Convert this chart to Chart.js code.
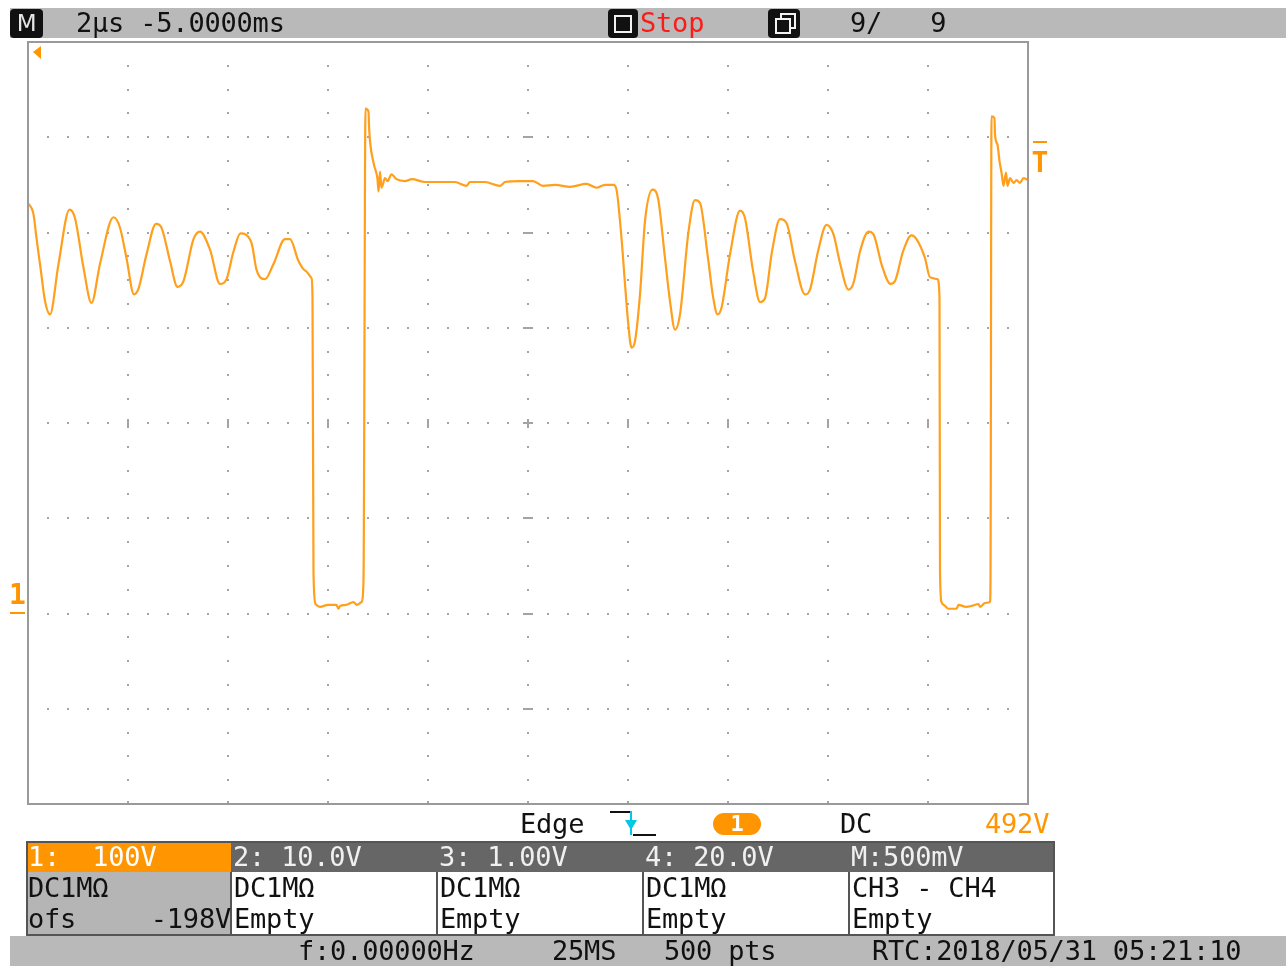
<!DOCTYPE html>
<html>
<head>
<meta charset="utf-8">
<title>CH1 100V/div 2µs/div</title>
<script src="https://cdn.jsdelivr.net/npm/chart.js@4.4.1/dist/chart.umd.min.js"></script>
<style>
  html, body { margin: 0; padding: 0; background: #fff; }
  #scope { position: relative; width: 1286px; height: 966px; overflow: hidden; background: #fff; }
  #scope canvas { position: absolute; left: 0; top: 0; }
  .bar { position: absolute; background: #b9b9b9; }
  .t { position: absolute; font-family: "DejaVu Sans Mono", monospace; font-size: 27px;
       white-space: pre; color: #111; letter-spacing: -0.2px; }
  .cell { position: absolute; box-sizing: border-box; }
  .ico { position: absolute; background: #111; border-radius: 4px; }
</style>
</head>
<body>
<div id="scope">
  <canvas id="trace" width="1286" height="966"></canvas>

  <!-- top status bar -->
  <div class="bar" style="left:10px;top:8px;width:1276px;height:30px;"></div>
  <div class="ico" style="left:10px;top:9px;width:33px;height:29px;"></div>
  <div class="t" style="left:10px;top:8px;width:33px;height:30px;line-height:30px;text-align:center;color:#e6e6e6;font-family:'DejaVu Sans',sans-serif;font-size:23px;">M</div>
  <div class="t" style="left:76px;top:8px;line-height:30px;">2µs -5.0000ms</div>
  <div class="ico" style="left:608px;top:9px;width:30px;height:29px;"></div>
  <div style="position:absolute;left:614px;top:15px;width:14px;height:14px;border:2px solid #f2f2f2;background:#111;"></div>
  <div class="t" style="left:640px;top:8px;line-height:30px;color:#ff1a1a;">Stop</div>
  <div class="ico" style="left:768px;top:9px;width:32px;height:29px;"></div>
  <div style="position:absolute;left:780px;top:13px;width:12px;height:12px;border:2px solid #f2f2f2;"></div>
  <div style="position:absolute;left:775px;top:18px;width:12px;height:12px;border:2px solid #f2f2f2;background:#111;"></div>
  <div class="t" style="left:850px;top:8px;line-height:30px;">9/   9</div>

  <!-- trigger row -->
  <div class="t" style="left:520px;top:810px;line-height:28px;">Edge</div>
  <svg style="position:absolute;left:606px;top:808px;" width="52" height="30">
    <line x1="4" y1="4" x2="24" y2="4" stroke="#111" stroke-width="2"/>
    <line x1="25" y1="3" x2="25" y2="27" stroke="#00c8e6" stroke-width="2"/>
    <polygon points="19,12 31,12 25,22" fill="#00c8e6"/>
    <line x1="27" y1="27" x2="50" y2="27" stroke="#111" stroke-width="2"/>
  </svg>
  <div style="position:absolute;left:713px;top:813px;width:48px;height:22px;border-radius:11px;background:#ff9500;"></div>
  <div class="t" style="left:713px;top:811px;width:48px;line-height:26px;text-align:center;color:#fff;font-weight:bold;font-size:22px;">1</div>
  <div class="t" style="left:840px;top:810px;line-height:28px;">DC</div>
  <div class="t" style="left:985px;top:810px;line-height:28px;color:#ff9500;">492V</div>

  <!-- channel table -->
  <div class="cell" style="left:26px;top:841px;width:205px;height:31px;background:#ff9500;"></div>
  <div class="cell" style="left:231px;top:841px;width:824px;height:31px;background:#666;"></div>
  <div class="cell" style="left:26px;top:872px;width:205px;height:63px;background:#b5b5b5;"></div>
  <div class="cell" style="left:26px;top:841px;width:1029px;height:95px;border:2px solid #555;"></div>
  <div class="cell" style="left:230px;top:872px;width:2px;height:63px;background:#555;"></div>
  <div class="cell" style="left:436px;top:872px;width:2px;height:63px;background:#555;"></div>
  <div class="cell" style="left:642px;top:872px;width:2px;height:63px;background:#555;"></div>
  <div class="cell" style="left:848px;top:872px;width:2px;height:63px;background:#555;"></div>

  <div class="t" style="left:28px;top:841px;line-height:31px;color:#fff;">1:  100V</div>
  <div class="t" style="left:233px;top:841px;line-height:31px;color:#f0f0f0;">2: 10.0V</div>
  <div class="t" style="left:439px;top:841px;line-height:31px;color:#f0f0f0;">3: 1.00V</div>
  <div class="t" style="left:645px;top:841px;line-height:31px;color:#f0f0f0;">4: 20.0V</div>
  <div class="t" style="left:851px;top:841px;line-height:31px;color:#f0f0f0;">M:500mV</div>

  <div class="t" style="left:28px;top:872px;line-height:31px;">DC1MΩ</div>
  <div class="t" style="left:234px;top:872px;line-height:31px;">DC1MΩ</div>
  <div class="t" style="left:440px;top:872px;line-height:31px;">DC1MΩ</div>
  <div class="t" style="left:646px;top:872px;line-height:31px;">DC1MΩ</div>
  <div class="t" style="left:852px;top:872px;line-height:31px;">CH3 - CH4</div>

  <div class="t" style="left:28px;top:903px;line-height:31px;">ofs</div>
  <div class="t" style="left:130px;top:903px;width:101px;line-height:31px;text-align:right;">-198V</div>
  <div class="t" style="left:234px;top:903px;line-height:31px;">Empty</div>
  <div class="t" style="left:440px;top:903px;line-height:31px;">Empty</div>
  <div class="t" style="left:646px;top:903px;line-height:31px;">Empty</div>
  <div class="t" style="left:852px;top:903px;line-height:31px;">Empty</div>

  <!-- bottom status bar -->
  <div class="bar" style="left:10px;top:936px;width:1276px;height:30px;"></div>
  <div class="t" style="left:298px;top:936px;line-height:30px;">f:0.00000Hz</div>
  <div class="t" style="left:552px;top:936px;line-height:30px;">25MS</div>
  <div class="t" style="left:664px;top:936px;line-height:30px;">500 pts</div>
  <div class="t" style="left:872px;top:936px;line-height:30px;">RTC:2018/05/31 05:21:10</div>
</div>

<script>
// Channel 1 capture: time in µs from the left edge of the screen, voltage in V.
const timeUs = [
  0.00, 0.11, 0.17, 0.25, 0.34, 0.44, 0.61, 0.83, 0.94, 1.11,
  1.27, 1.44, 1.71, 1.84, 1.97, 2.12, 2.21, 2.37, 2.56, 2.67,
  2.84, 2.99, 3.11, 3.31, 3.44, 3.64, 3.84, 3.97, 4.11, 4.25,
  4.47, 4.57, 4.74, 4.91, 5.14, 5.24, 5.41, 5.54, 5.67, 5.69,
  5.71, 5.75, 5.77, 5.84, 6.00, 6.17, 6.21, 6.24, 6.36, 6.51,
  6.58, 6.67, 6.71, 6.75, 6.81, 6.82, 6.84, 6.92, 6.99, 7.01,
  7.04, 7.07, 7.14, 7.19, 7.27, 7.37, 7.54, 7.68, 7.94, 8.24,
  8.54, 8.77, 8.84, 9.14, 9.44, 9.54, 9.84, 10.10, 10.30, 10.54,
  10.84, 11.17, 11.37, 11.54, 11.71, 11.77, 11.87, 11.94, 12.00, 12.07,
  12.14, 12.24, 12.34, 12.49, 12.60, 12.74, 12.84, 12.94, 13.04, 13.21,
  13.34, 13.44, 13.60, 13.70, 13.79, 13.87, 14.04, 14.24, 14.34, 14.50,
  14.64, 14.74, 14.88, 15.04, 15.17, 15.34, 15.54, 15.64, 15.80, 15.97,
  16.11, 16.24, 16.41, 16.51, 16.64, 16.81, 16.91, 17.08, 17.25, 17.34,
  17.50, 17.67, 17.77, 17.94, 18.04, 18.19, 18.23, 18.24, 18.27, 18.34,
  18.41, 18.57, 18.61, 18.76, 18.88, 19.01, 19.04, 19.14, 19.24, 19.25,
  19.27, 19.33, 19.34, 19.39, 19.43, 19.47, 19.51, 19.56, 19.59, 19.64,
  19.71, 19.77, 19.84, 19.91, 19.97, 20.00
];
const ch1Volts = [
  431, 419, 394, 363, 328, 314, 367, 424, 415, 363,
  326, 367, 416, 405, 373, 335, 341, 377, 409, 405,
  370, 343, 349, 393, 401, 382, 346, 351, 380, 399,
  389, 361, 351, 367, 393, 393, 370, 360, 352, 332,
  42, 10, 9, 7, 9, 9, 5, 8, 9, 12,
  9, 12, 34, 530, 527, 513, 496, 471, 456, 443,
  464, 447, 457, 454, 461, 456, 454, 456, 453, 453,
  453, 449, 453, 453, 449, 453, 454, 454, 449, 450,
  448, 451, 447, 450, 450, 445, 394, 346, 307, 279,
  286, 335, 412, 445, 436, 373, 328, 298, 314, 401,
  434, 431, 373, 333, 314, 321, 377, 423, 415, 360,
  327, 331, 380, 414, 410, 370, 335, 340, 380, 408,
  398, 368, 340, 347, 380, 401, 398, 365, 346, 349,
  380, 397, 393, 373, 353, 351, 332, 45, 12, 8,
  5, 5, 9, 7, 8, 10, 7, 11, 12, 35,
  522, 520, 503, 492, 475, 463, 449, 463, 449, 457,
  452, 455, 452, 457, 456, 455
];

// Screen settings: 10 x 2 µs horizontally, 8 x 100 V vertically.
const timeRange = [0, 20];
const timePerDiv = 2;
const voltRange = [-200, 600];
const voltsPerDiv = 100;
const groundLevel = 0;
const triggerLevel = 492;

const TRACE = '#ff9f1c';
const MARK = '#ff9500';
const DOT = '#a4a4a4';

// Dotted graticule, centre-line ticks.
const graticule = {
  id: 'graticule',
  beforeDatasetsDraw(chart) {
    const { ctx, chartArea: a, scales: { x, y } } = chart;
    ctx.save();
    ctx.fillStyle = DOT;
    const dot = (px, py, w, h) => ctx.fillRect(Math.round(px - w / 2), Math.round(py - h / 2), w, h);
    const tMid = (timeRange[0] + timeRange[1]) / 2;
    const vMid = (voltRange[0] + voltRange[1]) / 2;
    // vertical division lines: dots every quarter division
    for (let t = timeRange[0] + timePerDiv; t < timeRange[1] - 1e-9; t += timePerDiv) {
      const px = x.getPixelForValue(t);
      for (let v = voltRange[0] + voltsPerDiv / 4; v < voltRange[1] - 1e-9; v += voltsPerDiv / 4) {
        dot(px, y.getPixelForValue(v), 2, 2);
      }
    }
    // horizontal division lines: dots every fifth of a division
    for (let v = voltRange[0] + voltsPerDiv; v < voltRange[1] - 1e-9; v += voltsPerDiv) {
      const py = y.getPixelForValue(v);
      for (let t = timeRange[0] + timePerDiv / 5; t < timeRange[1] - 1e-9; t += timePerDiv / 5) {
        dot(x.getPixelForValue(t), py, 2, 2);
      }
    }
    // ticks on the centre cross
    const cy = y.getPixelForValue(vMid);
    const cx = x.getPixelForValue(tMid);
    for (let t = timeRange[0] + timePerDiv; t < timeRange[1] - 1e-9; t += timePerDiv) {
      dot(x.getPixelForValue(t), cy, 2, 9);
    }
    for (let v = voltRange[0] + voltsPerDiv; v < voltRange[1] - 1e-9; v += voltsPerDiv) {
      dot(cx, y.getPixelForValue(v), 10, 2);
    }
    // small ticks on the bottom edge
    for (let t = timeRange[0] + timePerDiv; t < timeRange[1] - 1e-9; t += timePerDiv) {
      dot(x.getPixelForValue(t), a.bottom - 2, 2, 3);
    }
    ctx.restore();
  },
  afterDatasetsDraw(chart) {
    const { ctx, chartArea: a, scales: { y } } = chart;
    ctx.save();
    // screen frame
    ctx.strokeStyle = '#9a9a9a';
    ctx.lineWidth = 2;
    ctx.strokeRect(a.left, a.top, a.right - a.left, a.bottom - a.top);

    // trigger position indicator (off screen to the left)
    ctx.fillStyle = MARK;
    ctx.beginPath();
    ctx.moveTo(a.left + 5, a.top + 10);
    ctx.lineTo(a.left + 13, a.top + 4);
    ctx.lineTo(a.left + 13, a.top + 17);
    ctx.closePath();
    ctx.fill();

    // channel 1 ground marker
    const gy = y.getPixelForValue(groundLevel);
    ctx.fillRect(10, Math.round(gy) - 2, 15, 2);
    ctx.font = 'bold 28px "DejaVu Sans Mono", monospace';
    ctx.textAlign = 'center';
    ctx.textBaseline = 'alphabetic';
    ctx.fillText('1', 17.5, gy - 10);

    // trigger level marker
    const ty = y.getPixelForValue(triggerLevel);
    ctx.fillRect(a.right + 5, Math.round(ty) - 4, 14, 2);
    ctx.fillText('T', a.right + 12, ty + 27);
    ctx.restore();
  }
};

new Chart(document.getElementById('trace'), {
  type: 'line',
  data: {
    datasets: [{
      label: 'CH1',
      data: timeUs.map((t, i) => ({ x: t, y: ch1Volts[i] })),
      borderColor: TRACE,
      borderWidth: 2.2,
      pointRadius: 0,
      cubicInterpolationMode: 'monotone',
      fill: false
    }]
  },
  options: {
    responsive: false,
    animation: false,
    devicePixelRatio: 1,
    layout: { padding: { left: 28, top: 42, right: 258, bottom: 162 } },
    plugins: { legend: { display: false }, tooltip: { enabled: false } },
    scales: {
      x: { type: 'linear', min: timeRange[0], max: timeRange[1], display: false },
      y: { type: 'linear', min: voltRange[0], max: voltRange[1], display: false }
    }
  },
  plugins: [graticule]
});
</script>
</body>
</html>
